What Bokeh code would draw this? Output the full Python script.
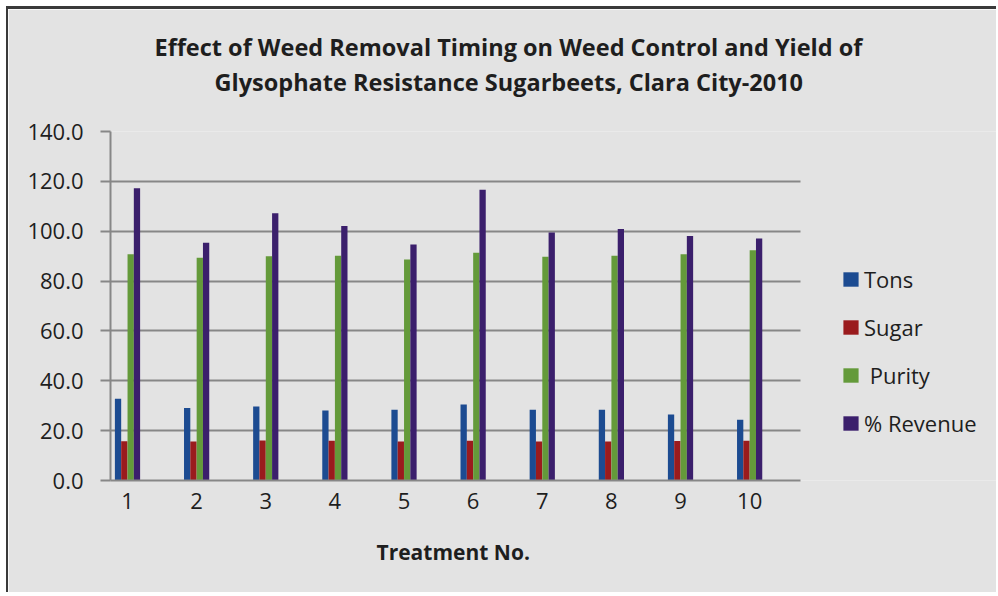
from bokeh.plotting import figure
from bokeh.models import (ColumnDataSource, FixedTicker, PrintfTickFormatter,
                          Legend, LegendItem, Title, Range1d)
from bokeh.transform import dodge
from bokeh.embed import file_html
from bokeh.resources import INLINE

# Treatment numbers and measured values
treatments = [1, 2, 3, 4, 5, 6, 7, 8, 9, 10]
tick_labels = ["1", "2", "3", "4", "5", "6", "7", "8", "9", "10"]
y_ticks = [0, 20, 40, 60, 80, 100, 120, 140]
tons = [32.8, 29.1, 29.7, 28.1, 28.4, 30.5, 28.4, 28.4, 26.5, 24.4]
sugar = [15.7, 15.6, 16.0, 15.9, 15.6, 15.9, 15.6, 15.6, 15.8, 15.9]
purity = [90.8, 89.4, 90.0, 90.2, 88.7, 91.4, 89.8, 90.2, 90.8, 92.4]
revenue = [117.2, 95.4, 107.2, 102.1, 94.7, 116.6, 99.5, 100.9, 98.1, 97.1]

series = [
    ("tons", "Tons", "#1c4b91"),
    ("sugar", "Sugar", "#9a1b1d"),
    ("purity", " Purity", "#649a3a"),
    ("revenue", "% Revenue", "#3b1f6c"),
]

source = ColumnDataSource(dict(x=treatments, tons=tons, sugar=sugar,
                               purity=purity, revenue=revenue))

FONT = "Open Sans"
BG = "#e3e3e3"
GRID = "#878787"
TXT = "#1e1e1e"

# Category axis occupies 0.754..10.737; the rest of the width holds the legend
X_LO, X_HI, X_PAGE = 0.754, 10.737, 13.6

p = figure(width=990, height=586, output_backend="svg", toolbar_location=None,
           x_range=Range1d(X_LO, X_PAGE), y_range=Range1d(0, 140),
           min_border_left=102, min_border_right=0,
           min_border_top=122, min_border_bottom=115)
p.margin = (6, 0, 0, 6)
p.styles = {"border-top": "3px solid #3a3a3a", "border-left": "2px solid #3a3a3a"}
p.background_fill_color = BG
p.border_fill_color = BG
p.outline_line_color = None
p.title = None

bar_w = 0.091
offsets = [-0.137, -0.046, 0.046, 0.137]
renderers = []
for (col, label, color), off in zip(series, offsets):
    r = p.vbar(x=dodge("x", off, range=p.x_range), top=col, bottom=0,
               width=bar_w, source=source, fill_color=color, line_color=None)
    renderers.append((label, r))

xa = p.xaxis[0]
xa.bounds = (X_LO, X_HI)
xa.ticker = FixedTicker(ticks=treatments)
xa.major_label_overrides = {t: s for t, s in zip(treatments, tick_labels)}
xa.major_tick_line_color = None
xa.minor_tick_line_color = None
xa.axis_line_color = GRID
xa.axis_line_width = 2
xa.major_label_standoff = 6
xa.major_label_text_font = FONT
xa.major_label_text_font_size = "22px"
xa.major_label_text_color = TXT

ya = p.yaxis[0]
ya.ticker = FixedTicker(ticks=y_ticks)
ya.formatter = PrintfTickFormatter(format="%.1f")
ya.major_tick_out = 10
ya.major_tick_in = 0
ya.major_tick_line_color = GRID
ya.major_tick_line_width = 2
ya.minor_tick_line_color = None
ya.axis_line_color = GRID
ya.axis_line_width = 2
ya.major_label_standoff = 17
ya.major_label_text_font = FONT
ya.major_label_text_font_size = "22px"
ya.major_label_text_color = TXT

p.xgrid.grid_line_color = None
p.ygrid.grid_line_color = GRID
p.ygrid.grid_line_width = 2
p.ygrid.cross_bounds = (X_LO, X_HI)

# x-axis caption, centred under the category axis
x_caption = Title(text="Treatment No.", text_font=FONT, text_font_size="21px",
                  text_font_style="bold", text_color=TXT, align="left",
                  vertical_align="bottom", offset=266, standoff=48)
p.add_layout(x_caption, "below")

# blank gap between the plot area and the two title lines
gap = Title(text=" ", text_font=FONT, text_font_size="10px",
            text_color=BG, standoff=18)
p.add_layout(gap, "above")

title_style = dict(text_font=FONT, text_font_size="23.5px", text_font_style="bold",
                   text_color=TXT, align="left", vertical_align="bottom")
t2 = Title(text="Glysophate Resistance Sugarbeets, Clara City-2010",
           offset=104, standoff=0, **title_style)
t1 = Title(text="Effect of Weed Removal Timing on Weed Control and Yield of",
           offset=44, standoff=2, **title_style)
p.add_layout(t2, "above")
p.add_layout(t1, "above")

legend = Legend(items=[LegendItem(label=l, renderers=[r]) for l, r in renderers],
                location=(731, 42), orientation="vertical",
                glyph_width=19, glyph_height=18, label_height=20,
                label_standoff=4, spacing=18, padding=0, margin=0,
                border_line_color=None, background_fill_alpha=0,
                label_text_font=FONT, label_text_font_size="22px",
                label_text_color=TXT)
p.add_layout(legend, "center")

open("out.html", "w").write(file_html(p, INLINE))
